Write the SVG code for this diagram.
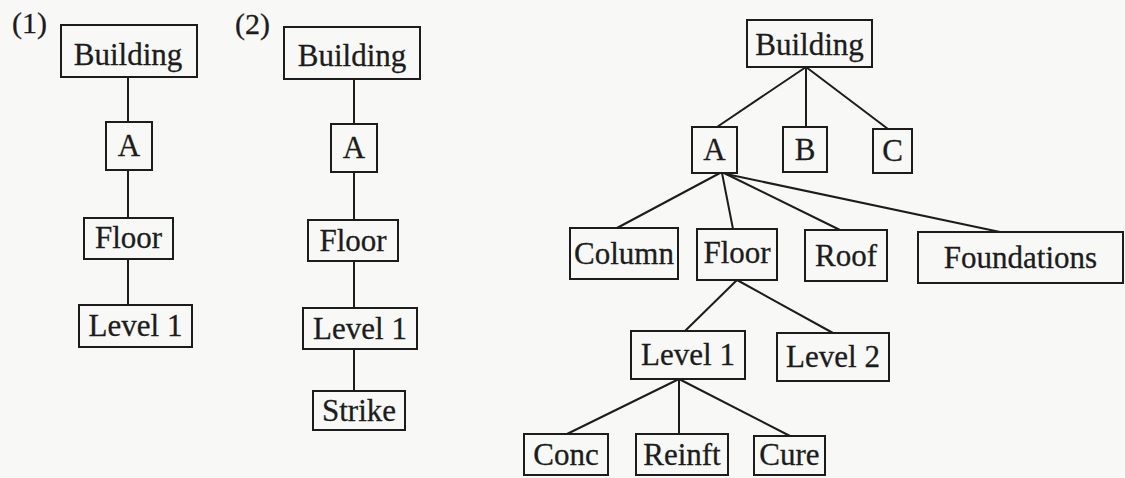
<svg xmlns="http://www.w3.org/2000/svg" width="1125" height="478" viewBox="0 0 1125 478">
<style>
.bx{fill:none;stroke:#1c1c1c;stroke-width:2}
.ln{fill:none;stroke:#1c1c1c;stroke-width:2;stroke-linecap:round}
.t{font-family:"Liberation Serif","Times New Roman",serif;font-size:31px;fill:#1c1c1c;stroke:#1c1c1c;stroke-width:0.3;text-anchor:middle}
.lab{font-family:"Liberation Serif","Times New Roman",serif;font-size:30px;fill:#1c1c1c;stroke:#1c1c1c;stroke-width:0.3}
</style>
<rect x="0" y="0" width="1125" height="478" fill="#f8f9f6"/>
<text class="lab" x="12" y="33">(1)</text>
<text class="lab" x="235" y="34">(2)</text>
<g id="connectors">
<line class="ln" x1="128" y1="77" x2="128" y2="122"/>
<line class="ln" x1="128" y1="170" x2="128" y2="218"/>
<line class="ln" x1="128" y1="259" x2="128" y2="305"/>
<line class="ln" x1="354" y1="79" x2="354" y2="124"/>
<line class="ln" x1="354" y1="172" x2="354" y2="220"/>
<line class="ln" x1="354" y1="261" x2="354" y2="308"/>
<line class="ln" x1="354" y1="349" x2="354" y2="391"/>
<line class="ln" x1="806" y1="67" x2="717" y2="127"/>
<line class="ln" x1="806" y1="67" x2="806" y2="127"/>
<line class="ln" x1="806" y1="67" x2="888" y2="129"/>
<line class="ln" x1="720" y1="173" x2="617" y2="228"/>
<line class="ln" x1="722" y1="173" x2="733" y2="229"/>
<line class="ln" x1="724" y1="173" x2="840" y2="230"/>
<line class="ln" x1="726" y1="174" x2="1000" y2="232"/>
<line class="ln" x1="737" y1="280" x2="685" y2="331"/>
<line class="ln" x1="737" y1="280" x2="833" y2="333"/>
<line class="ln" x1="679" y1="379" x2="567" y2="434"/>
<line class="ln" x1="679" y1="379" x2="679" y2="434"/>
<line class="ln" x1="679" y1="379" x2="790" y2="436"/>
</g>
<g id="p1-building"><rect class="bx" x="61" y="25" width="136" height="52"/><text class="t" x="128" y="65">Building</text></g>
<g id="p1-a"><rect class="bx" x="106" y="122" width="46" height="48"/><text class="t" x="129" y="156">A</text></g>
<g id="p1-floor"><rect class="bx" x="84" y="218" width="89" height="41"/><text class="t" x="128.5" y="248">Floor</text></g>
<g id="p1-level1"><rect class="bx" x="79" y="305" width="113" height="42"/><text class="t" x="135.5" y="336">Level 1</text></g>
<g id="p2-building"><rect class="bx" x="284" y="27" width="136" height="52"/><text class="t" x="352" y="66">Building</text></g>
<g id="p2-a"><rect class="bx" x="331" y="124" width="46" height="48"/><text class="t" x="354" y="158">A</text></g>
<g id="p2-floor"><rect class="bx" x="308" y="220" width="90" height="41"/><text class="t" x="353" y="251">Floor</text></g>
<g id="p2-level1"><rect class="bx" x="303" y="308" width="114" height="41"/><text class="t" x="360" y="339">Level 1</text></g>
<g id="p2-strike"><rect class="bx" x="313" y="391" width="92" height="39"/><text class="t" x="359" y="421">Strike</text></g>
<g id="p3-building"><rect class="bx" x="747" y="20" width="125" height="47"/><text class="t" x="809.5" y="55">Building</text></g>
<g id="p3-a"><rect class="bx" x="692" y="127" width="45" height="46"/><text class="t" x="714.5" y="160">A</text></g>
<g id="p3-b"><rect class="bx" x="783" y="127" width="44" height="45"/><text class="t" x="805" y="160">B</text></g>
<g id="p3-c"><rect class="bx" x="873" y="129" width="39" height="44"/><text class="t" x="892.5" y="161">C</text></g>
<g id="p3-column"><rect class="bx" x="570" y="228" width="108" height="51"/><text class="t" x="624" y="264">Column</text></g>
<g id="p3-floor"><rect class="bx" x="697" y="229" width="80" height="51"/><text class="t" x="737" y="263">Floor</text></g>
<g id="p3-roof"><rect class="bx" x="805" y="230" width="82" height="51"/><text class="t" x="846" y="266">Roof</text></g>
<g id="p3-foundations"><rect class="bx" x="918" y="232" width="205" height="51"/><text class="t" x="1020.5" y="268">Foundations</text></g>
<g id="p3-level1"><rect class="bx" x="631" y="331" width="114" height="48"/><text class="t" x="688" y="365">Level 1</text></g>
<g id="p3-level2"><rect class="bx" x="777" y="333" width="112" height="48"/><text class="t" x="833" y="367">Level 2</text></g>
<g id="p3-conc"><rect class="bx" x="524" y="434" width="84" height="41"/><text class="t" x="566" y="465">Conc</text></g>
<g id="p3-reinft"><rect class="bx" x="636" y="434" width="92" height="41"/><text class="t" x="682" y="465">Reinft</text></g>
<g id="p3-cure"><rect class="bx" x="754" y="436" width="71" height="39"/><text class="t" x="789.5" y="465">Cure</text></g>
</svg>
